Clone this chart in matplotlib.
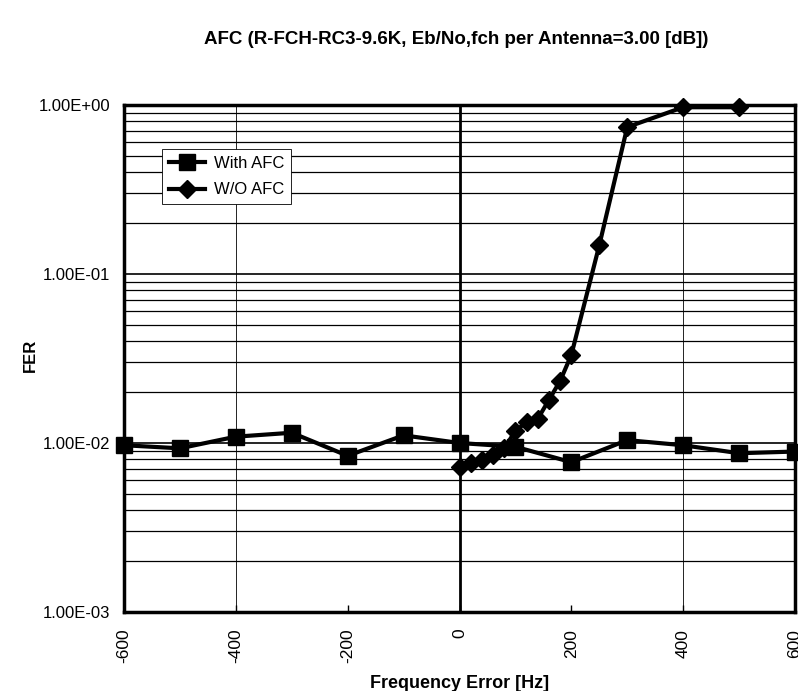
import matplotlib
matplotlib.use("Agg")
import matplotlib.pyplot as plt
from matplotlib.ticker import FixedLocator, LogLocator, NullFormatter, FixedFormatter

plt.rcParams['font.family'] = ['Liberation Sans', 'DejaVu Sans']

title = "AFC (R-FCH-RC3-9.6K, Eb/No,fch per Antenna=3.00 [dB])"
x_label = "Frequency Error [Hz]"
y_label = "FER"

with_afc_x = [-600, -500, -400, -300, -200, -100, 0, 100, 200, 300, 400, 500, 600]
with_afc_y = [0.0097, 0.0093, 0.0109, 0.0115, 0.0084, 0.0111, 0.0100, 0.0095,
              0.0077, 0.0104, 0.0097, 0.0087, 0.0089]

wo_afc_x = [0, 20, 40, 60, 80, 100, 120, 140, 160, 180, 200, 250, 300, 400, 500]
wo_afc_y = [0.0072, 0.0076, 0.0079, 0.0085, 0.0093, 0.0118, 0.0133, 0.0139,
            0.0180, 0.0233, 0.0332, 0.148, 0.74, 0.97, 0.97]

x_ticks = [-600, -400, -200, 0, 200, 400, 600]
y_ticks = [1e-3, 1e-2, 1e-1, 1e0]
y_tick_labels = ["1.00E-03", "1.00E-02", "1.00E-01", "1.00E+00"]

fig = plt.figure(figsize=(7.98, 6.91), dpi=100)
ax = fig.add_axes([124/798, 1-612/691, (795-124)/798, (612-105)/691])

ax.set_yscale('log')
ax.set_xlim(-600, 600)
ax.set_ylim(1e-3, 1e0)

# horizontal gridlines (major + minor)
ax.yaxis.set_major_locator(FixedLocator(y_ticks))
ax.yaxis.set_major_formatter(FixedFormatter(y_tick_labels))
ax.yaxis.set_minor_locator(LogLocator(base=10, subs=range(2, 10)))
ax.yaxis.set_minor_formatter(NullFormatter())
ax.grid(True, which='major', axis='y', color='black', lw=1.2)
ax.grid(True, which='minor', axis='y', color='black', lw=0.9)

# vertical lines
ax.axvline(0, color='black', lw=2.0, zorder=1.5)
for xv in (-400, 400):
    ax.axvline(xv, color='black', lw=0.6, zorder=1.5)

ax.set_xticks(x_ticks)
ax.set_xticklabels([str(v) for v in x_ticks], rotation=90, fontsize=12.5)
ax.tick_params(axis='x', direction='in', length=5, width=1, pad=12)
ax.tick_params(axis='y', which='both', length=0, pad=10, labelsize=12)

for s in ax.spines.values():
    s.set_linewidth(2.5)
    s.set_color('black')

ax.plot(with_afc_x, with_afc_y, color='black', lw=3, marker='s', markersize=12,
        label='With AFC', zorder=3, clip_on=False)
ax.plot(wo_afc_x, wo_afc_y, color='black', lw=3, marker='D', markersize=9,
        label='W/O AFC', zorder=4, clip_on=False)

leg = ax.legend(loc='upper left', bbox_to_anchor=((162-124)/671, 1-(149-105)/507),
                fontsize=12, frameon=True, fancybox=False, edgecolor='black',
                framealpha=1, borderpad=0.4, handlelength=2.2, labelspacing=0.7,
                handletextpad=0.5, borderaxespad=0)
leg.get_frame().set_linewidth(0.6)

fig.text(456/798, 1-39/691, title, ha='center', va='center', fontsize=13.5,
         fontweight='bold')
fig.text(460/798, 1-683/691, x_label, ha='center', va='center', fontsize=13,
         fontweight='bold')
fig.text(30/798, 1-355/691, y_label, ha='center', va='center', fontsize=12,
         fontweight='bold', rotation=90)

fig.savefig('out.png', dpi=100)
